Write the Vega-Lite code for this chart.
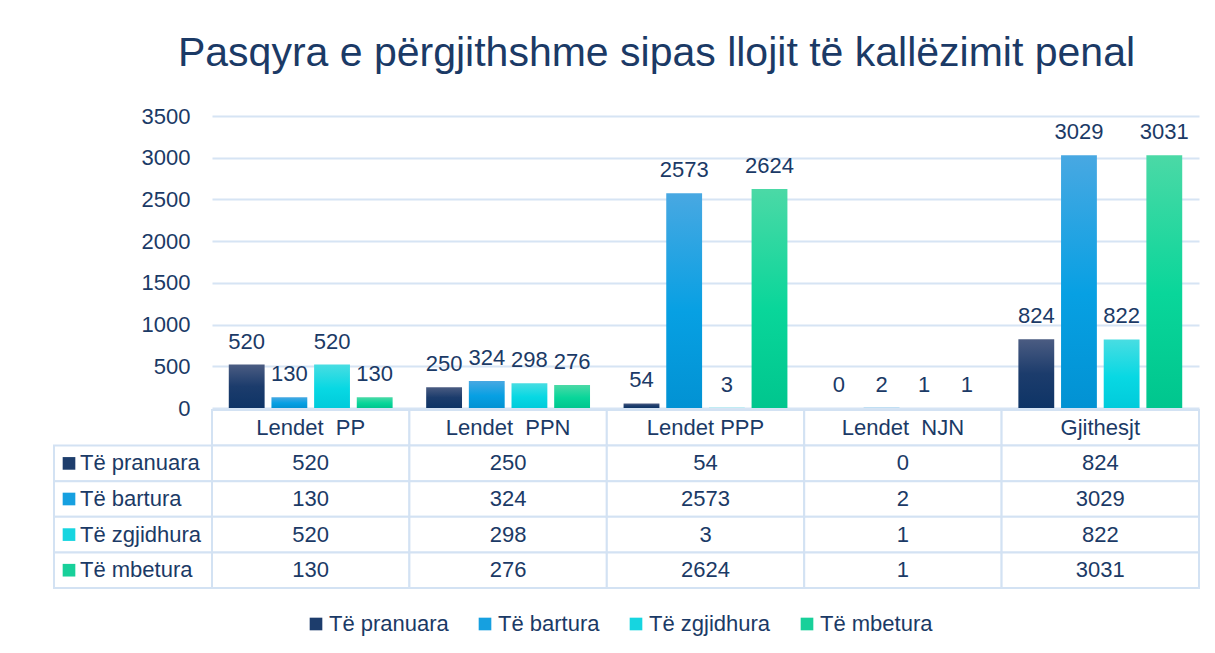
{
  "$schema": "https://vega.github.io/schema/vega-lite/v6.json",
  "background": "white",
  "padding": {"left": 53, "top": 33, "right": 17, "bottom": 10},
  "title": {
    "text": "Pasqyra e përgjithshme sipas llojit të kallëzimit penal",
    "font": "Liberation Sans",
    "fontSize": 41,
    "fontWeight": "normal",
    "color": "#1b3a66",
    "anchor": "middle",
    "dx": 30,
    "offset": 30
  },
  "datasets": {
    "main": [
      {"cat": "Lendet\u00a0 PP", "series": "Të pranuara", "value": 520},
      {"cat": "Lendet\u00a0 PP", "series": "Të bartura", "value": 130},
      {"cat": "Lendet\u00a0 PP", "series": "Të zgjidhura", "value": 520},
      {"cat": "Lendet\u00a0 PP", "series": "Të mbetura", "value": 130},
      {"cat": "Lendet\u00a0 PPN", "series": "Të pranuara", "value": 250},
      {"cat": "Lendet\u00a0 PPN", "series": "Të bartura", "value": 324},
      {"cat": "Lendet\u00a0 PPN", "series": "Të zgjidhura", "value": 298},
      {"cat": "Lendet\u00a0 PPN", "series": "Të mbetura", "value": 276},
      {"cat": "Lendet PPP", "series": "Të pranuara", "value": 54},
      {"cat": "Lendet PPP", "series": "Të bartura", "value": 2573},
      {"cat": "Lendet PPP", "series": "Të zgjidhura", "value": 3},
      {"cat": "Lendet PPP", "series": "Të mbetura", "value": 2624},
      {"cat": "Lendet\u00a0 NJN", "series": "Të pranuara", "value": 0},
      {"cat": "Lendet\u00a0 NJN", "series": "Të bartura", "value": 2},
      {"cat": "Lendet\u00a0 NJN", "series": "Të zgjidhura", "value": 1},
      {"cat": "Lendet\u00a0 NJN", "series": "Të mbetura", "value": 1},
      {"cat": "Gjithesjt", "series": "Të pranuara", "value": 824},
      {"cat": "Gjithesjt", "series": "Të bartura", "value": 3029},
      {"cat": "Gjithesjt", "series": "Të zgjidhura", "value": 822},
      {"cat": "Gjithesjt", "series": "Të mbetura", "value": 3031}
    ]
  },
  "config": {
    "view": {"stroke": null},
    "font": "Liberation Sans",
    "text": {"font": "Liberation Sans", "fontSize": 22, "color": "#1b3a66"}
  },
  "columns": 2,
  "bounds": "flush",
  "spacing": {"row": 2, "column": 0},
  "concat": [
    {
      "width": 158,
      "height": 292,
      "data": {"name": "main"},
      "transform": [{"filter": "false"}],
      "mark": {"type": "text"},
      "encoding": {"text": {"value": ""}}
    },
    {
      "width": 987,
      "height": 292,
      "data": {"name": "main"},
      "encoding": {
        "x": {
          "field": "cat", "type": "nominal",
          "sort": ["Lendet\u00a0 PP", "Lendet\u00a0 PPN", "Lendet PPP", "Lendet\u00a0 NJN", "Gjithesjt"],
          "scale": {"paddingInner": 0.17, "paddingOuter": 0.085},
          "axis": null
        },
        "xOffset": {
          "field": "series", "type": "nominal",
          "sort": ["Të pranuara", "Të bartura", "Të zgjidhura", "Të mbetura"],
          "scale": {"paddingInner": 0.16, "paddingOuter": 0}
        },
        "y": {
          "field": "value", "type": "quantitative",
          "scale": {"domain": [0, 3500], "nice": false},
          "axis": {
            "values": [0, 500, 1000, 1500, 2000, 2500, 3000, 3500],
            "format": "d",
            "grid": true, "gridColor": "#d6e4f4", "gridWidth": 2,
            "domain": false, "ticks": false,
            "labelFontSize": 22, "labelColor": "#1b3a66", "labelPadding": 22,
            "labelFont": "Liberation Sans",
            "title": null
          }
        }
      },
      "layer": [
        {
          "mark": {"type": "bar"},
          "encoding": {
            "fill": {
              "condition": [
                {"test": "datum.series === 'Të pranuara'", "value": {"gradient": "linear", "x1": 0, "y1": 0, "x2": 0, "y2": 1, "stops": [{"offset": 0, "color": "#4b5c82"}, {"offset": 0.5, "color": "#1c3c6c"}, {"offset": 1, "color": "#0e3466"}]}},
                {"test": "datum.series === 'Të bartura'", "value": {"gradient": "linear", "x1": 0, "y1": 0, "x2": 0, "y2": 1, "stops": [{"offset": 0, "color": "#48a8e2"}, {"offset": 0.55, "color": "#07a0e3"}, {"offset": 1, "color": "#0292d3"}]}},
                {"test": "datum.series === 'Të zgjidhura'", "value": {"gradient": "linear", "x1": 0, "y1": 0, "x2": 0, "y2": 1, "stops": [{"offset": 0, "color": "#48dde2"}, {"offset": 0.55, "color": "#08d8e3"}, {"offset": 1, "color": "#00cbdb"}]}}
              ],
              "value": {"gradient": "linear", "x1": 0, "y1": 0, "x2": 0, "y2": 1, "stops": [{"offset": 0, "color": "#4bd9a6"}, {"offset": 0.55, "color": "#09d69a"}, {"offset": 1, "color": "#00c68e"}]}
            }
          }
        },
        {
          "mark": {"type": "text", "baseline": "alphabetic", "dy": -16, "fontSize": 22, "color": "#1b3a66"},
          "encoding": {"text": {"field": "value", "type": "quantitative", "format": "d"}}
        }
      ]
    },
    {
      "width": 158,
      "height": 178,
      "data": {"name": "main"},
      "transform": [{"aggregate": [{"op": "count", "as": "n"}], "groupby": ["series"]}],
      "encoding": {
        "y": {
          "field": "series", "type": "nominal",
          "scale": {"domain": ["hdr", "Të pranuara", "Të bartura", "Të zgjidhura", "Të mbetura"], "paddingInner": 0, "paddingOuter": 0},
          "axis": null
        }
      },
      "layer": [
        {
          "mark": {"type": "rect", "fill": "white", "stroke": "#d3e2f3", "strokeWidth": 2}
        },
        {
          "mark": {"type": "square", "size": 160, "opacity": 1, "xOffset": 15},
          "encoding": {
            "x": {"value": 0},
            "color": {
              "field": "series", "type": "nominal",
              "scale": {
                "domain": ["Të pranuara", "Të bartura", "Të zgjidhura", "Të mbetura"],
                "range": ["#1d3d6c", "#16a0e0", "#16d5e0", "#18d09a"]
              },
              "legend": {
                "orient": "none",
                "legendX": 251,
                "legendY": 497,
                "direction": "horizontal",
                "columns": 4,
                "title": null,
                "symbolType": "square",
                "symbolSize": 160,
                "symbolStrokeWidth": 0,
                "labelFontSize": 22,
                "labelColor": "#1b3a66",
                "labelFont": "Liberation Sans",
                "labelOffset": 2,
                "columnPadding": 25
              }
            }
          }
        },
        {
          "mark": {"type": "text", "align": "left", "baseline": "middle", "dx": 26, "fontSize": 22, "color": "#1b3a66"},
          "encoding": {"x": {"value": 0}, "text": {"field": "series", "type": "nominal"}}
        }
      ]
    },
    {
      "width": 987,
      "height": 178,
      "data": {"name": "main"},
      "encoding": {
        "x": {
          "field": "cat", "type": "nominal",
          "sort": ["Lendet\u00a0 PP", "Lendet\u00a0 PPN", "Lendet PPP", "Lendet\u00a0 NJN", "Gjithesjt"],
          "scale": {"paddingInner": 0, "paddingOuter": 0},
          "axis": null
        }
      },
      "layer": [
        {
          "transform": [{"aggregate": [{"op": "count", "as": "n"}], "groupby": ["cat"]}],
          "mark": {"type": "rect", "fill": "white", "stroke": "#d3e2f3", "strokeWidth": 2},
          "encoding": {
            "y": {"datum": "hdr", "type": "nominal", "scale": {"domain": ["hdr", "Të pranuara", "Të bartura", "Të zgjidhura", "Të mbetura"], "paddingInner": 0, "paddingOuter": 0}, "axis": null}
          }
        },
        {
          "transform": [{"aggregate": [{"op": "count", "as": "n"}], "groupby": ["cat"]}],
          "mark": {"type": "text", "baseline": "middle", "fontSize": 22, "color": "#1b3a66"},
          "encoding": {
            "y": {"datum": "hdr", "type": "nominal"},
            "text": {"field": "cat", "type": "nominal"}
          }
        },
        {
          "mark": {"type": "rect", "fill": "white", "stroke": "#d3e2f3", "strokeWidth": 2},
          "encoding": {"y": {"field": "series", "type": "nominal"}}
        },
        {
          "mark": {"type": "text", "baseline": "middle", "fontSize": 22, "color": "#1b3a66"},
          "encoding": {
            "y": {"field": "series", "type": "nominal"},
            "text": {"field": "value", "type": "quantitative", "format": "d"}
          }
        }
      ]
    }
  ]
}
